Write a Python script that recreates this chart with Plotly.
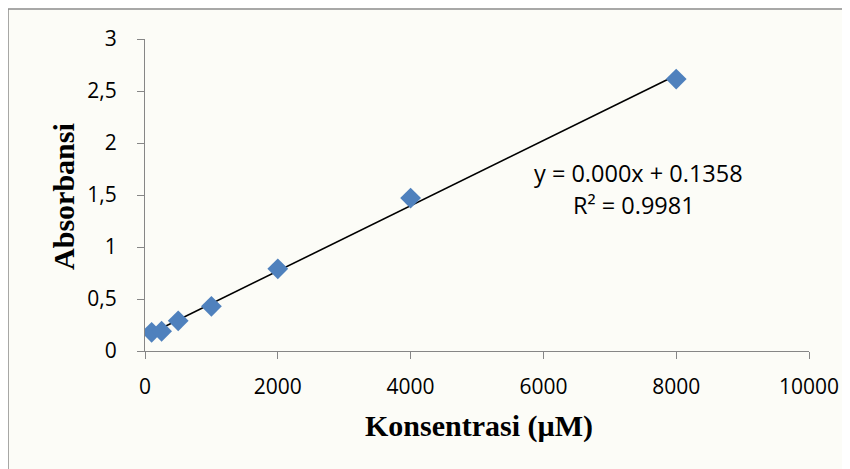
import numpy as np
import plotly.graph_objects as go

konsentrasi = [100, 250, 500, 1000, 2000, 4000, 8000]
absorbansi = [0.18, 0.19, 0.29, 0.43, 0.79, 1.47, 2.615]
x_ticks = [0, 2000, 4000, 6000, 8000, 10000]
y_ticks = [0, 0.5, 1, 1.5, 2, 2.5, 3]
y_ticktext = ["0", "0,5", "1", "1,5", "2", "2,5", "3"]
eq_text = "y = 0.000x + 0.1358"
r2_text = "R² = 0.9981"

slope, intercept = np.polyfit(konsentrasi, absorbansi, 1)
trend_x = [min(konsentrasi), max(konsentrasi)]
trend_y = [slope * v + intercept for v in trend_x]

sans = "Open Sans, Liberation Sans, sans-serif"
serif = "Liberation Serif, Times New Roman, serif"
tick_font = dict(family=sans, size=21, color="#000000")
title_font = dict(family=serif, size=30, color="#000000")

fig = go.Figure()
fig.add_trace(go.Scatter(x=trend_x, y=trend_y, mode="lines",
                         line=dict(color="#000000", width=1.6), hoverinfo="skip"))
fig.add_trace(go.Scatter(x=konsentrasi, y=absorbansi, mode="markers",
                         marker=dict(symbol="diamond", size=16, color="#4f81bd",
                                     line=dict(width=0))))

eq_font = dict(family=sans, size=23.5, color="#000000")
fig.add_annotation(x=0.743, y=0.572, xref="paper", yref="paper", showarrow=False,
                   text=eq_text, font=eq_font, xanchor="center", yanchor="middle")
fig.add_annotation(x=0.737, y=0.467, xref="paper", yref="paper", showarrow=False,
                   text=r2_text, font=eq_font, xanchor="center", yanchor="middle")

# axis titles
fig.add_annotation(x=-0.122, y=0.497, xref="paper", yref="paper", showarrow=False,
                   text="<b>Absorbansi</b>", textangle=-90, font=title_font,
                   xanchor="center", yanchor="middle")
fig.add_annotation(x=0.503, y=-0.240, xref="paper", yref="paper", showarrow=False,
                   text="<b>Konsentrasi (µM)</b>", font=title_font,
                   xanchor="center", yanchor="middle")

# outer frame
fig.add_shape(type="line", xref="paper", yref="paper", x0=-0.2063, x1=-0.2063, y0=1.0962, y1=-0.45,
              line=dict(color="#8c8c8c", width=1.5))
fig.add_shape(type="line", xref="paper", yref="paper", x0=-0.2063, x1=1.1, y0=1.0962, y1=1.0962,
              line=dict(color="#8c8c8c", width=1.5))

fig.update_layout(
    width=850, height=469,
    margin=dict(l=137, r=49, t=31, b=126, autoexpand=False),
    paper_bgcolor="#fcfcf7", plot_bgcolor="#fcfcf7",
    showlegend=False,
    xaxis=dict(range=[0, 10000], tickvals=x_ticks, ticktext=[str(v) for v in x_ticks],
               showgrid=False, zeroline=False, automargin=False,
               showline=True, linecolor="#868686", linewidth=1.3,
               ticks="outside", ticklen=7, tickcolor="#868686", tickfont=tick_font,
               ticklabelstandoff=10),
    yaxis=dict(range=[0, 3], tickvals=y_ticks, ticktext=y_ticktext,
               showgrid=False, zeroline=False, automargin=False,
               showline=True, linecolor="#868686", linewidth=1.3,
               ticks="outside", ticklen=7, tickcolor="#868686", tickfont=tick_font,
               ticklabelstandoff=16),
)

fig.write_html("out.html")
